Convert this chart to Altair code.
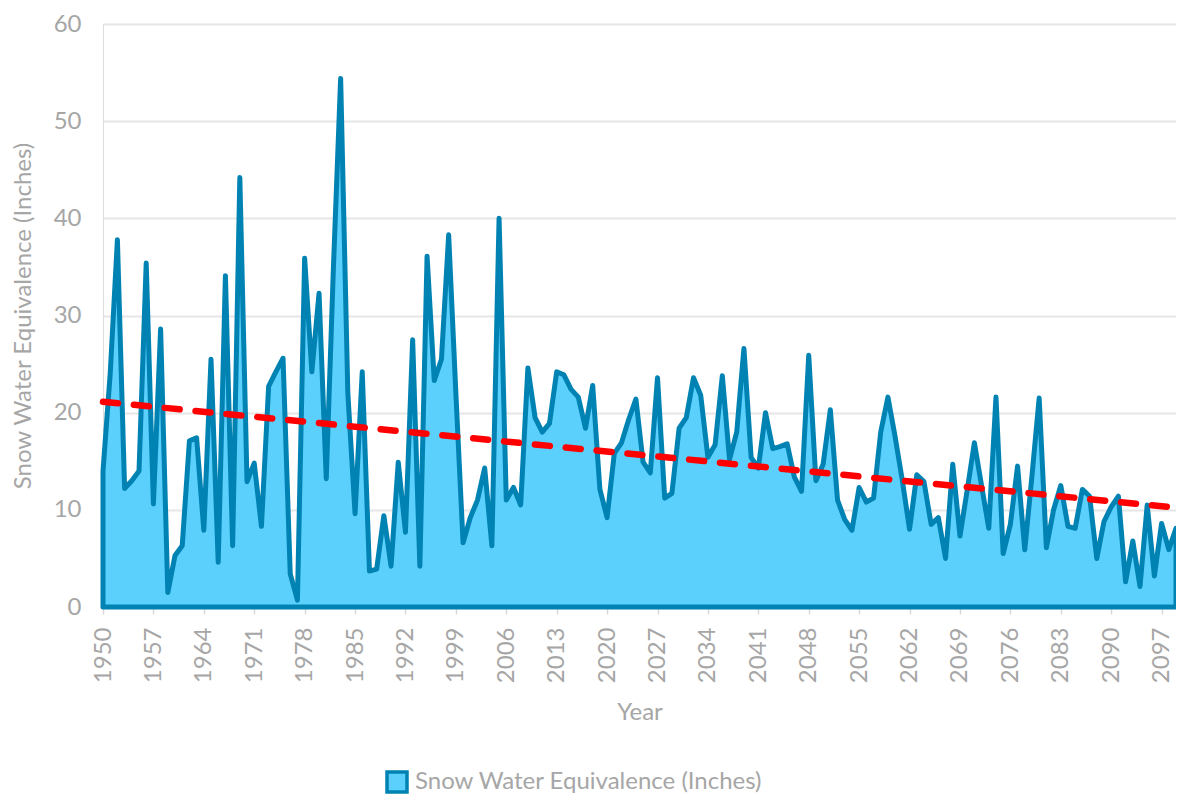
import altair as alt
import pandas as pd

years = list(range(1950, 2100))
swe = [
    14.0, 24.0, 37.8, 12.2, 13.0, 14.0, 35.4, 10.6, 28.6, 1.5,
    5.3, 6.3, 17.1, 17.4, 7.9, 25.5, 4.6, 34.1, 6.3, 44.2,
    12.9, 14.8, 8.3, 22.7, 24.2, 25.6, 3.4, 0.7, 35.9, 24.2,
    32.3, 13.2, 35.0, 54.4, 22.0, 9.6, 24.2, 3.7, 3.9, 9.4,
    4.2, 14.9, 7.7, 27.5, 4.2, 36.1, 23.3, 25.5, 38.3, 22.0,
    6.6, 9.2, 11.0, 14.3, 6.3, 40.0, 11.0, 12.3, 10.5, 24.6,
    19.5, 18.0, 18.9, 24.2, 23.9, 22.4, 21.6, 18.4, 22.8, 12.1,
    9.2, 15.8, 16.9, 19.3, 21.4, 14.9, 13.8, 23.6, 11.2, 11.7,
    18.4, 19.5, 23.6, 21.8, 15.4, 16.7, 23.8, 15.2, 18.0, 26.6,
    15.4, 14.3, 20.0, 16.3, 16.5, 16.8, 13.4, 11.9, 25.9, 13.0,
    14.7, 20.3, 11.0, 9.0, 7.9, 12.3, 10.8, 11.2, 18.0, 21.6,
    17.5, 13.0, 8.0, 13.6, 12.9, 8.5, 9.2, 5.0, 14.7, 7.3,
    12.0, 16.9, 12.5, 8.1, 21.6, 5.5, 8.5, 14.5, 5.9, 13.5,
    21.5, 6.1, 10.0, 12.5, 8.3, 8.1, 12.1, 11.4, 5.0, 8.8,
    10.3, 11.4, 2.6, 6.8, 2.1, 10.5, 3.2, 8.6, 5.9, 8.1,
]
series_name = "Snow Water Equivalence (Inches)"
x_tick_values = list(range(1950, 2100, 7))
y_tick_values = [0, 10, 20, 30, 40, 50, 60]

df = pd.DataFrame({"year": years, "swe": swe, "series": [series_name] * len(years)})

GRAY = "#A6A6A6"
FONT = "Lato"

x_enc = alt.X(
    "year:Q",
    scale=alt.Scale(domain=[1950, 2099], nice=False, zero=False),
    axis=alt.Axis(
        values=x_tick_values, format="d", labelAngle=-90,
        labelFontSize=24, labelColor=GRAY, labelFont=FONT,
        tickColor="#D9D9D9", tickSize=7, tickWidth=1.5,
        domainColor="#D9D9D9", grid=False, labelPadding=13,
        title="Year", titleFontSize=24, titleColor=GRAY, titleFont=FONT,
        titleFontWeight="normal", titlePadding=18,
    ),
)
y_enc = alt.Y(
    "swe:Q",
    scale=alt.Scale(domain=[0, 60], nice=False),
    axis=alt.Axis(
        values=y_tick_values, domain=False, ticks=False,
        gridColor="#E6E6E6", gridWidth=2,
        labelFontSize=24, labelColor=GRAY, labelFont=FONT, labelPadding=22,
        title=series_name, titleFontSize=24, titleColor=GRAY, titleFont=FONT,
        titleFontWeight="normal", titlePadding=18,
    ),
)

area = alt.Chart(df).mark_area(
    stroke="#0083B3", strokeWidth=5, strokeJoin="round", opacity=1
).encode(
    x=x_enc,
    y=y_enc,
    fill=alt.Fill(
        "series:N",
        scale=alt.Scale(range=["#5CD0FD"]),
        legend=alt.Legend(
            title=None, orient="none", legendX=282, legendY=746,
            symbolType="square", symbolSize=400,
            symbolStrokeColor="#0083B3", symbolStrokeWidth=3.5,
            labelFontSize=24, labelColor=GRAY, labelFont=FONT, labelOffset=6,
            labelLimit=0,
        ),
    ),
)

trend = alt.Chart(df).transform_regression(
    "year", "swe", method="linear", extent=[1950, 2099]
).mark_line(
    color="#FF0000", strokeWidth=6.5, strokeDash=[15, 16], strokeCap="round"
).encode(
    x="year:Q",
    y="swe:Q",
)

chart = alt.layer(area, trend).properties(
    width=1073,
    height=583,
    autosize=alt.AutoSizeParams(type="none"),
    padding={"left": 95, "top": 16, "right": 0, "bottom": 189},
).configure_view(stroke=None).configure(font=FONT)

chart.save("out.html", embed_options={"renderer": "svg", "actions": False})
